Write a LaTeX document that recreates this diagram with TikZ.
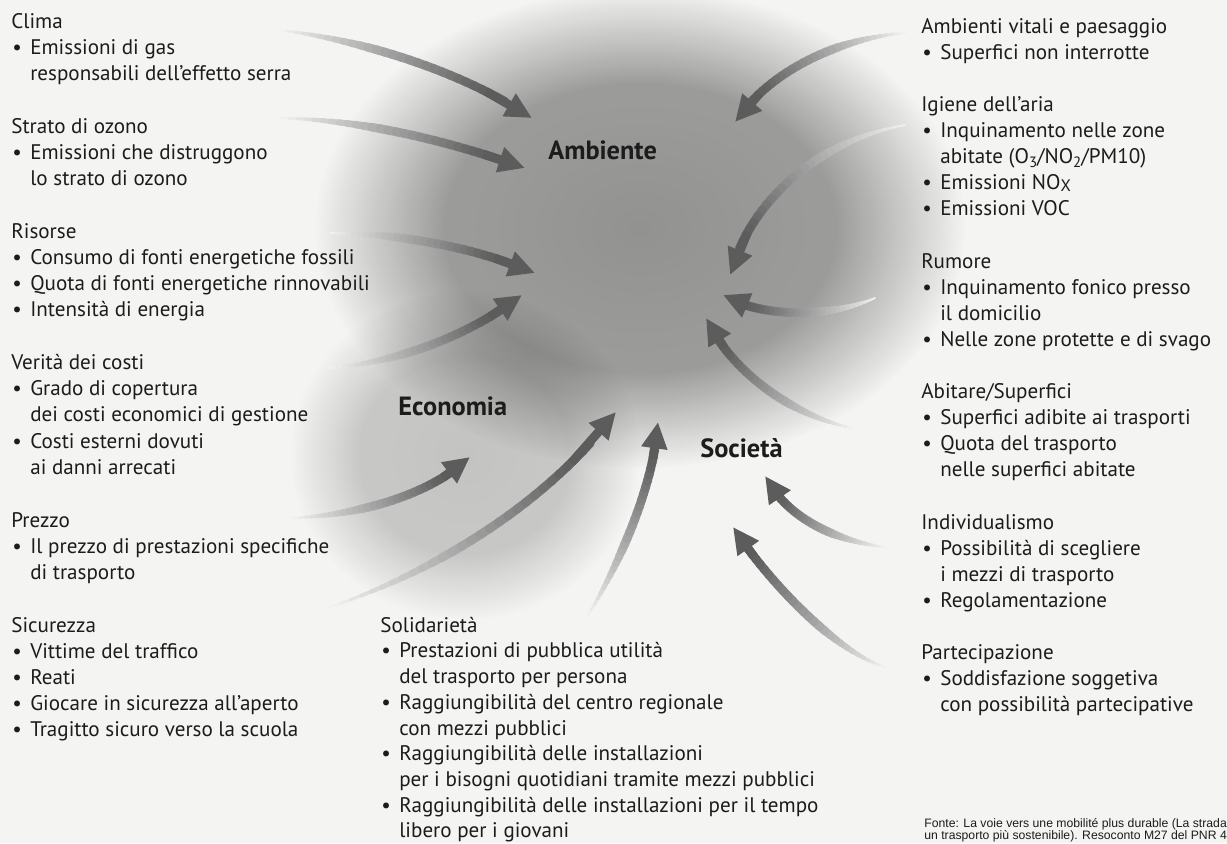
\documentclass[tikz,border=0pt]{standalone}
\usepackage{fontspec}
\setmainfont{PT Sans}
\newfontfamily\footfont{Liberation Sans}
\usetikzlibrary{arrows.meta,fadings}
\definecolor{paper}{RGB}{244,244,242}
\definecolor{ink}{RGB}{28,28,28}
\definecolor{fadeclear}{gray}{0}
\pgfdeclareradialshading{cloudshade}{\pgfpointorigin}{color(0bp)=(fadeclear!0); color(15bp)=(fadeclear!10); color(25bp)=(fadeclear!100); color(50bp)=(fadeclear!100)}
\pgfdeclarefading{cloudfade}{\pgfuseshading{cloudshade}}
\newcommand\bul{\makebox[10.8pt][l]{\hspace{0.6pt}•}}
\newcommand\ind{\hspace*{10.8pt}}
\newcommand\fst{\rule{0pt}{9pt}}
\newcommand\lsub[1]{\raisebox{-0.35ex}{\fontsize{8.5}{9}\selectfont #1}}
\newcommand\garrow[4]{%
  \foreach \gi in {0,...,27}{%
    \pgfmathsetmacro\gta{\gi/32}%
    \pgfmathsetmacro\gtb{(\gi+1.15)/32}%
    \pgfmathsetmacro\gw{5*min(1,0.22+2.2*\gta)}%
    \pgfmathsetmacro\gsh{6+56*min(1,1.3*\gta)}%
    \path (#1) .. controls (#2) and (#3) .. (#4) coordinate[pos=\gta] (ga) coordinate[pos=\gtb] (gb);%
    \draw[shaftseg, line width=\gw pt, draw=black!\gsh] (ga) -- (gb);%
  }%
  \path (#1) .. controls (#2) and (#3) .. (#4) coordinate[pos=0.8] (gc);%
  \draw[arrowtip] (gc) -- (#4);%
}
\begin{document}
\begin{tikzpicture}[x=0.02cm,y=-0.02cm,
  txt/.style={anchor=north west, inner sep=0pt, align=left, text=ink, font=\fontsize{12}{14.88}\selectfont},
  txtr/.style={txt, font=\fontsize{12}{14.80}\selectfont},
  txts/.style={txt, font=\fontsize{12}{14.63}\selectfont},
  biglabel/.style={anchor=base west, inner sep=0pt, text=ink, font=\bfseries\fontsize{15}{18}\selectfont},
  cloudpart/.style={fill=black, path fading=cloudfade},
  shaftseg/.style={line cap=round},
  arrowtip/.style={line width=5pt, draw=black!64, fill=black!70, -{Triangle[length=15pt,width=14pt]}}
]
\useasboundingbox (0,0) rectangle (1227,843);
\clip (0,0) rectangle (1227,843);
\fill[paper] (0,0) rectangle (1227,843);

% cloud
\fill[cloudpart, opacity=0.40] (640,228) ellipse [x radius=325, y radius=240];
\fill[cloudpart, opacity=0.20] (465,455) ellipse [x radius=175, y radius=165];

% arrow geometry
\coordinate (t1) at (280,30);  \coordinate (a1) at (360,40);  \coordinate (b1) at (460,70);  \coordinate (h1) at (532,118);
\coordinate (t2) at (280,118); \coordinate (a2) at (370,120); \coordinate (b2) at (460,145); \coordinate (h2) at (525,168);
\coordinate (t3) at (330,233); \coordinate (a3) at (390,233); \coordinate (b3) at (470,245); \coordinate (h3) at (535,273);
\coordinate (t4) at (330,368); \coordinate (a4) at (400,362); \coordinate (b4) at (470,335); \coordinate (h4) at (522,295);
\coordinate (t5) at (292,518); \coordinate (a5) at (360,515); \coordinate (b5) at (430,495); \coordinate (h5) at (470,457);
\coordinate (t6) at (330,607); \coordinate (a6) at (440,570); \coordinate (b6) at (550,500); \coordinate (h6) at (616,412);
\coordinate (t7) at (588,615); \coordinate (a7) at (622,560); \coordinate (b7) at (655,480); \coordinate (h7) at (658,422);
\coordinate (t8) at (905,33);  \coordinate (a8) at (840,38);  \coordinate (b8) at (770,70);  \coordinate (h8) at (735,122);
\coordinate (t9) at (905,125); \coordinate (a9) at (820,140); \coordinate (b9) at (750,200); \coordinate (h9) at (730,275);
\coordinate (t10) at (875,298); \coordinate (a10) at (830,318); \coordinate (b10) at (760,318); \coordinate (h10) at (723,295);
\coordinate (t11) at (852,428); \coordinate (a11) at (790,415); \coordinate (b11) at (730,370); \coordinate (h11) at (706,318);
\coordinate (t12) at (885,547); \coordinate (a12) at (830,540); \coordinate (b12) at (785,515); \coordinate (h12) at (765,476);
\coordinate (t13) at (885,667); \coordinate (a13) at (830,650); \coordinate (b13) at (760,570); \coordinate (h13) at (733,527);

\garrow{t1}{a1}{b1}{h1}
\garrow{t2}{a2}{b2}{h2}
\garrow{t3}{a3}{b3}{h3}
\garrow{t4}{a4}{b4}{h4}
\garrow{t5}{a5}{b5}{h5}
\garrow{t6}{a6}{b6}{h6}
\garrow{t7}{a7}{b7}{h7}
\garrow{t8}{a8}{b8}{h8}
\garrow{t9}{a9}{b9}{h9}
\garrow{t10}{a10}{b10}{h10}
\garrow{t11}{a11}{b11}{h11}
\garrow{t12}{a12}{b12}{h12}
\garrow{t13}{a13}{b13}{h13}

% central labels
\node[biglabel] (ambiente) at (548,159) {Ambiente};
\node[biglabel] (economia) at (398,415) {Economia};
\node[biglabel] (societa) at (700,457) {Società};

% left column
\node[txt] (clima) at (11,12.1) {\fst Clima\\ \bul Emissioni di gas\\ \ind responsabili dell’effetto serra};
\node[txt] (ozono) at (11,117.1) {\fst Strato di ozono\\ \bul Emissioni che distruggono\\ \ind lo strato di ozono};
\node[txt] (risorse) at (11,222.1) {\fst Risorse\\ \bul Consumo di fonti energetiche fossili\\ \bul Quota di fonti energetiche rinnovabili\\ \bul Intensità di energia};
\node[txt] (costi) at (11,353.4) {\fst Verità dei costi\\ \bul Grado di copertura\\ \ind dei costi economici di gestione\\ \bul Costi esterni dovuti\\ \ind ai danni arrecati};
\node[txt] (prezzo) at (11,510.9) {\fst Prezzo\\ \bul Il prezzo di prestazioni specifiche\\ \ind di trasporto};
\node[txt] (sicurezza) at (11,615.9) {\fst Sicurezza\\ \bul Vittime del traffico\\ \bul Reati\\ \bul Giocare in sicurezza all’aperto\\ \bul Tragitto sicuro verso la scuola};

% bottom column
\node[txts] (solid) at (380,616.1) {\fst Solidarietà\\ \bul Prestazioni di pubblica utilità\\ \ind del trasporto per persona\\ \bul Raggiungibilità del centro regionale\\ \ind con mezzi pubblici\\ \bul Raggiungibilità delle installazioni\\ \ind per i bisogni quotidiani tramite mezzi pubblici\\ \bul Raggiungibilità delle installazioni per il tempo\\ \ind libero per i giovani};

% right column
\node[txtr] (ambienti) at (921,17.1) {\fst Ambienti vitali e paesaggio\\ \bul Superfici non interrotte};
\node[txtr] (igiene) at (921,95.4) {\fst Igiene dell’aria\\ \bul Inquinamento nelle zone\\ \ind abitate (O\lsub{3}/NO\lsub{2}/PM10)\\ \bul Emissioni NO\raisebox{-0.2ex}{\fontsize{9.5}{10}\selectfont X}\\ \bul Emissioni VOC};
\node[txtr] (rumore) at (921,252) {\fst Rumore\\ \bul Inquinamento fonico presso\\ \ind il domicilio\\ \bul Nelle zone protette e di svago};
\node[txtr] (abitare) at (921,382.5) {\fst Abitare/Superfici\\ \bul Superfici adibite ai trasporti\\ \bul Quota del trasporto\\ \ind nelle superfici abitate};
\node[txtr] (indiv) at (921,513) {\fst Individualismo\\ \bul Possibilità di scegliere\\ \ind i mezzi di trasporto\\ \bul Regolamentazione};
\node[txtr] (partec) at (921,643.5) {\fst Partecipazione\\ \bul Soddisfazione soggetiva\\ \ind con possibilità partecipative};

% source
\node[anchor=north west, inner sep=0pt, align=left, text=ink, font=\footfont\fontsize{6.95}{6.9}\selectfont] (fonte) at (924,818) {\rule{0pt}{4.8pt}Fonte: La voie vers une mobilité plus durable (La strada\\ un trasporto più sostenibile). Resoconto M27 del PNR 4};
\end{tikzpicture}
\end{document}
